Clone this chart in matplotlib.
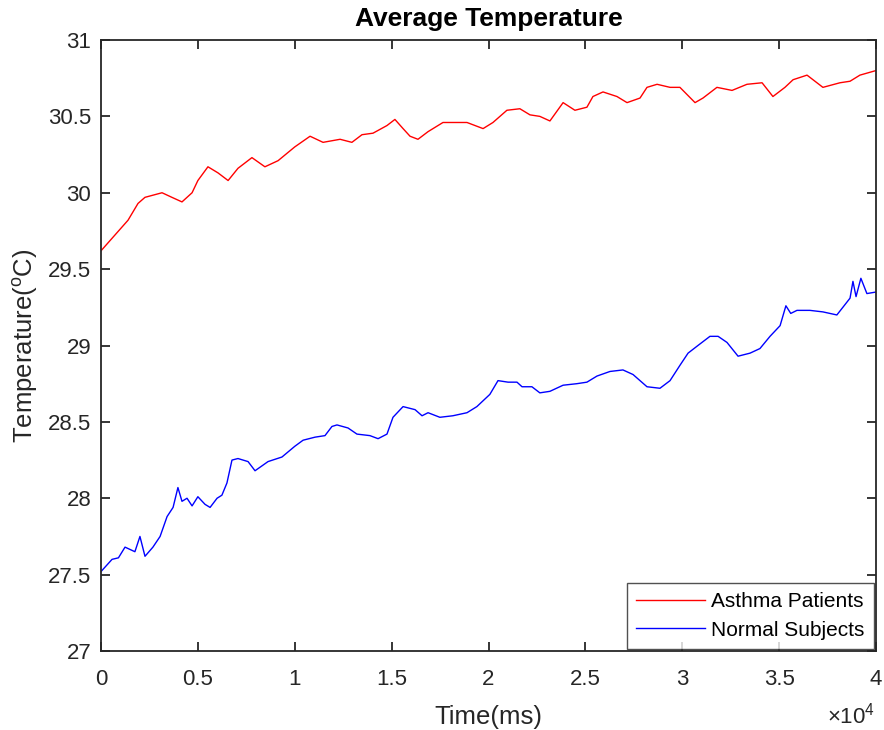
import matplotlib
matplotlib.use("Agg")
import matplotlib.pyplot as plt
from matplotlib.ticker import FuncFormatter, MultipleLocator

plt.rcParams['font.family'] = ['Liberation Sans', 'DejaVu Sans']
plt.rcParams['mathtext.fontset'] = 'custom'
plt.rcParams['mathtext.rm'] = 'Liberation Sans'
plt.rcParams['mathtext.it'] = 'Liberation Sans:italic'

# Asthma patients (red)
asthma_t = [0, 1394, 1910, 2270, 3150, 3660, 4180, 4700, 5000, 5520, 6040, 6560,
            7070, 7790, 8460, 9140, 10000, 10790, 11460, 12340, 12950, 13470,
            14040, 14760, 15170, 15590, 15950, 16360, 16880, 17650, 18370, 18890,
            19720, 20230, 20950, 21620, 22140, 22650, 23170, 23850, 24460, 25080,
            25390, 25910, 26630, 27150, 27820, 28180, 28700, 29370, 29880, 30660,
            31070, 31790, 32570, 33340, 34120, 34680, 35300, 35720, 36440, 37260,
            38140, 38660, 39170, 40000]
asthma_v = [29.62, 29.82, 29.93, 29.97, 30.00, 29.97, 29.94, 30.00, 30.08, 30.17,
            30.13, 30.08, 30.16, 30.23, 30.17, 30.21, 30.30, 30.37, 30.33, 30.35,
            30.33, 30.38, 30.39, 30.44, 30.48, 30.42, 30.37, 30.35, 30.40, 30.46,
            30.46, 30.46, 30.42, 30.46, 30.54, 30.55, 30.51, 30.50, 30.47, 30.59,
            30.54, 30.56, 30.63, 30.66, 30.63, 30.59, 30.62, 30.69, 30.71, 30.69,
            30.69, 30.59, 30.62, 30.69, 30.67, 30.71, 30.72, 30.63, 30.69, 30.74,
            30.77, 30.69, 30.72, 30.73, 30.77, 30.80]

# Normal subjects (blue)
normal_t = [0, 570, 900, 1240, 1750, 2010, 2270, 2680, 3050, 3410, 3720, 3970,
            4180, 4440, 4700, 5000, 5370, 5630, 5990, 6240, 6500, 6760, 7070,
            7590, 7950, 8620, 9340, 10000, 10430, 11050, 11560, 11920, 12180,
            12750, 13210, 13880, 14300, 14760, 15070, 15590, 16210, 16570, 16880,
            17490, 18160, 18890, 19400, 20070, 20490, 21010, 21470, 21730, 22240,
            22650, 23170, 23850, 24560, 25080, 25600, 26270, 26940, 27460, 28180,
            28850, 29370, 29880, 30300, 30810, 31430, 31850, 32310, 32880, 33500,
            34010, 34530, 35050, 35350, 35600, 35920, 36590, 37260, 37980, 38290,
            38660, 38810, 38970, 39220, 39530, 40000]
normal_v = [27.52, 27.60, 27.61, 27.68, 27.65, 27.75, 27.62, 27.68, 27.75, 27.88,
            27.94, 28.07, 27.98, 28.00, 27.95, 28.01, 27.96, 27.94, 28.00, 28.02,
            28.10, 28.25, 28.26, 28.24, 28.18, 28.24, 28.27, 28.34, 28.38, 28.40,
            28.41, 28.47, 28.48, 28.46, 28.42, 28.41, 28.39, 28.42, 28.53, 28.60,
            28.58, 28.54, 28.56, 28.53, 28.54, 28.56, 28.60, 28.68, 28.77, 28.76,
            28.76, 28.73, 28.73, 28.69, 28.70, 28.74, 28.75, 28.76, 28.80, 28.83,
            28.84, 28.81, 28.73, 28.72, 28.77, 28.87, 28.95, 29.00, 29.06, 29.06,
            29.02, 28.93, 28.95, 28.98, 29.06, 29.13, 29.26, 29.21, 29.23, 29.23,
            29.22, 29.20, 29.25, 29.31, 29.42, 29.32, 29.44, 29.34, 29.35]

series_labels = ["Asthma Patients", "Normal Subjects"]

fig = plt.figure(figsize=(8.84, 7.30), dpi=100)
ax = fig.add_axes([101/884, 79/730, 775/884, 611/730])

ax.plot(asthma_t, asthma_v, color=(1, 0, 0), lw=1.0, label=series_labels[0])
ax.plot(normal_t, normal_v, color=(0, 0, 1), lw=1.0, label=series_labels[1])

ax.set_xlim(0, 40000)
ax.set_ylim(27, 31)
ax.xaxis.set_major_locator(MultipleLocator(5000))
ax.yaxis.set_major_locator(MultipleLocator(0.5))
ax.xaxis.set_major_formatter(FuncFormatter(lambda v, p: f"{v/1e4:g}"))
ax.yaxis.set_major_formatter(FuncFormatter(lambda v, p: f"{v:g}"))

dark = (0.15, 0.15, 0.15)
for s in ax.spines.values():
    s.set_color(dark)
    s.set_linewidth(1.3)
ax.tick_params(direction='in', length=6.5, width=1.3, colors=dark, labelsize=16,
               top=True, right=True)
ax.tick_params(axis='x', pad=13)
ax.tick_params(axis='y', pad=7)
for lbl in ax.get_xticklabels() + ax.get_yticklabels():
    lbl.set_color(dark)

ax.set_xlabel("Time(ms)", fontsize=18.5, color=dark, labelpad=11)
ax.set_ylabel("Temperature($^{\\mathrm{o}}$C)", fontsize=18.5, color=dark, labelpad=6)
ax.set_title("Average Temperature", fontsize=19, fontweight='bold', pad=10)

ax.text(0.999, -0.106, "$\\times$10$^{4}$", transform=ax.transAxes, ha='right', va='center',
        fontsize=16, color=dark)

leg = ax.legend(loc='lower right', fontsize=15, frameon=True, fancybox=False,
                borderaxespad=0.1, handlelength=3.3, handletextpad=0.3,
                labelspacing=0.45, borderpad=0.45)
leg.get_frame().set_edgecolor(dark)
leg.get_frame().set_linewidth(1.0)

fig.savefig("out.png", dpi=100)
